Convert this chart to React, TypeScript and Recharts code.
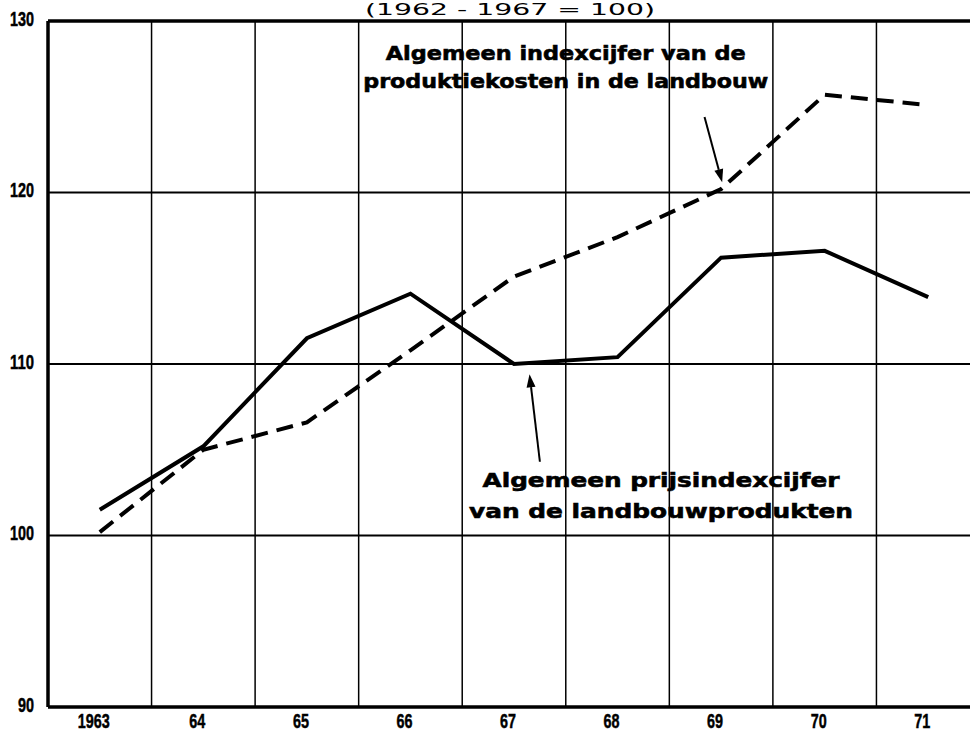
import React from "react";
import {
  LineChart,
  Line,
  XAxis,
  YAxis,
  CartesianGrid,
  ReferenceLine,
  ReferenceDot,
} from "recharts";

// jaren (x-as) en de twee indexreeksen (1962-1967 = 100)
const years = ["1963", "64", "65", "66", "67", "68", "69", "70", "71"];
const prijsindex = [101.5, 105.2, 111.5, 114.1, 110.0, 110.4, 116.2, 116.6, 113.9];
const kostenindex = [100.2, 105.0, 106.6, 110.8, 115.1, 117.4, 120.2, 125.7, 125.1];
const yTicks = [90, 100, 110, 120, 130];
const boundaries = [0.5, 1.5, 2.5, 3.5, 4.5, 5.5, 6.5, 7.5];

const data = years.map((year, i) => ({
  i,
  year,
  prijs: prijsindex[i],
  kosten: kostenindex[i],
}));

const tickFont = "'Liberation Sans', Arial, sans-serif";
const noteFont = "'DejaVu Sans', sans-serif";

// smalle, vette cijfers zoals in het origineel
const NarrowTick = (p: any) => {
  const { x, y, payload, anchor, dx = 0, dy = 0, fmt } = p;
  const s = fmt ? fmt(payload.value) : String(payload.value);
  return (
    <text
      x={x + dx}
      y={y + dy}
      textAnchor={anchor}
      dominantBaseline="central"
      fontFamily={tickFont}
      fontWeight="bold"
      fontSize={21}
      fill="#000"
      stroke="#000"
      strokeWidth={0.5}
      textLength={s.length * 8}
      lengthAdjust="spacingAndGlyphs"
    >
      {s}
    </text>
  );
};

const Arrow = (p: any) => {
  const { x1, y1, x2, y2 } = p;
  const a = Math.atan2(y2 - y1, x2 - x1);
  const len = 13;
  const w = 4.5;
  const bx = x2 - len * Math.cos(a);
  const by = y2 - len * Math.sin(a);
  const px = -Math.sin(a) * w;
  const py = Math.cos(a) * w;
  return (
    <g>
      <line x1={x1} y1={y1} x2={bx} y2={by} stroke="#000" strokeWidth={2} />
      <polygon
        points={`${x2},${y2} ${bx + px},${by + py} ${bx - px},${by - py}`}
        fill="#000"
      />
    </g>
  );
};

const note = (lines: { text: string; len: number; dy: number }[]) => (p: any) => (
  <g>
    {lines.map((l, k) => (
      <text
        key={k}
        x={p.cx}
        y={p.cy + l.dy}
        textAnchor="middle"
        fontFamily={noteFont}
        fontWeight="bold"
        fontSize={20}
        fill="#000"
        stroke="#000"
        strokeWidth={0.6}
        textLength={l.len}
        lengthAdjust="spacingAndGlyphs"
      >
        {l.text}
      </text>
    ))}
  </g>
);

export default function App() {
  return (
    <div
      style={{
        position: "absolute",
        left: 0,
        top: 0,
        width: 970,
        height: 739,
        overflow: "hidden",
        background: "#fff",
      }}
    >
      <LineChart
        width={990}
        height={739}
        data={data}
        margin={{ top: 21, right: 10, bottom: 3, left: 0 }}
      >
        <CartesianGrid vertical={false} stroke="#000" strokeWidth={2} />
        {boundaries.map((b) => (
          <ReferenceLine key={b} x={b} stroke="#000" strokeWidth={1.5} />
        ))}
        <ReferenceLine y={130} stroke="#000" strokeWidth={3.5} />
        <XAxis
          type="number"
          dataKey="i"
          domain={[-0.5, 8.5]}
          ticks={[0, 1, 2, 3, 4, 5, 6, 7, 8]}
          height={29}
          tickLine={false}
          axisLine={{ stroke: "#000", strokeWidth: 3.5 }}
          tick={(p: any) => (
            <NarrowTick {...p} anchor="middle" dx={-6} dy={5} fmt={(v: number) => years[v]} />
          )}
        />
        <YAxis
          type="number"
          domain={[90, 130]}
          ticks={yTicks}
          width={48}
          tickLine={false}
          axisLine={{ stroke: "#000", strokeWidth: 3.5 }}
          tick={(p: any) => <NarrowTick {...p} anchor="end" dx={-6} dy={-3} />}
        />
        <Line
          type="linear"
          dataKey="prijs"
          stroke="#000"
          strokeWidth={4}
          dot={false}
          isAnimationActive={false}
        />
        <Line
          type="linear"
          dataKey="kosten"
          stroke="#000"
          strokeWidth={4}
          strokeDasharray="17 9"
          dot={false}
          isAnimationActive={false}
        />
        <ReferenceLine
          segment={[
            { x: 5.84, y: 124.4 },
            { x: 6.01, y: 120.6 },
          ]}
          shape={Arrow}
        />
        <ReferenceLine
          segment={[
            { x: 4.25, y: 104.3 },
            { x: 4.15, y: 109.4 },
          ]}
          shape={Arrow}
        />
        <ReferenceDot
          x={4.5}
          y={127.7}
          r={0}
          shape={note([
            { text: "Algemeen indexcijfer van de", len: 360, dy: 0 },
            { text: "produktiekosten in de landbouw", len: 405, dy: 28 },
          ])}
        />
        <ReferenceDot
          x={5.42}
          y={102.8}
          r={0}
          shape={note([
            { text: "Algemeen prijsindexcijfer", len: 357, dy: 0 },
            { text: "van de landbouwprodukten", len: 384, dy: 31 },
          ])}
        />
      </LineChart>
      <svg
        width={970}
        height={30}
        style={{ position: "absolute", left: 0, top: 0, pointerEvents: "none" }}
      >
        <text
          x={510}
          y={15}
          textAnchor="middle"
          fontFamily={noteFont}
          fontSize={15}
          fill="#000"
          textLength={290}
          lengthAdjust="spacingAndGlyphs"
        >
          (1962 - 1967 = 100)
        </text>
      </svg>
    </div>
  );
}
